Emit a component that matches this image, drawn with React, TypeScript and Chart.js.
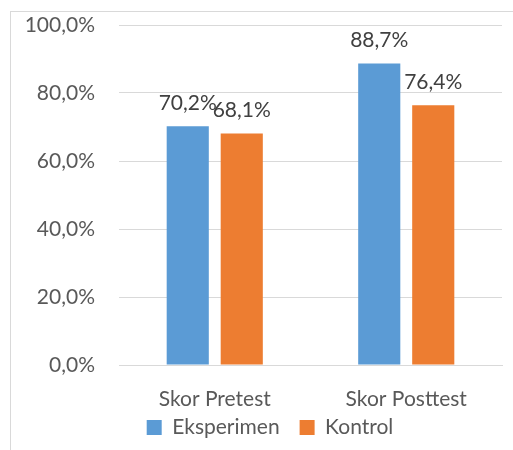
import React, { useEffect, useRef } from "react";
import { Chart, registerables } from "chart.js";

Chart.register(...registerables);

const categories = ["Skor Pretest", "Skor Posttest"];
const seriesNames = ["Eksperimen", "Kontrol"];
const eksperimen = [70.2, 88.7];
const kontrol = [68.1, 76.4];
const yTicks = [0, 20, 40, 60, 80, 100];
const colors = ["#5B9BD5", "#ED7D31"];

const FONT = "Lato, 'Noto Sans', sans-serif";
const FS = 21;
const fmt = (v: number) => v.toFixed(1).replace(".", ",") + "%";

const labelPlugin = {
  id: "valueLabels",
  afterLayout(chart: any) {
    if (chart.legend) {
      chart.legend.left += 19;
      chart.legend.right += 19;
      chart.legend.top -= 15;
    }
  },
  afterDatasetsDraw(chart: any) {
    const ctx = chart.ctx;
    ctx.save();
    ctx.font = `${FS}px ${FONT}`;
    ctx.fillStyle = "#404040";
    ctx.textAlign = "center";
    ctx.textBaseline = "alphabetic";
    chart.data.datasets.forEach((ds: any, di: number) => {
      const meta = chart.getDatasetMeta(di);
      meta.data.forEach((bar: any, i: number) => {
        ctx.fillText(fmt(ds.data[i]), bar.x, bar.y - 16);
      });
    });
    ctx.restore();
  },
};

export default function App() {
  const ref = useRef<HTMLCanvasElement>(null);
  useEffect(() => {
    if (!ref.current) return;
    const chart = new Chart(ref.current, {
      type: "bar",
      data: {
        labels: categories,
        datasets: [
          { label: seriesNames[0], data: eksperimen, backgroundColor: colors[0] },
          { label: seriesNames[1], data: kontrol, backgroundColor: colors[1] },
        ],
      },
      options: {
        responsive: false,
        animation: false,
        layout: { padding: { top: 25, right: 11, left: 0, bottom: 2 } },
        datasets: {
          bar: { categoryPercentage: 0.564, barPercentage: 0.78 },
        },
        scales: {
          y: {
            min: 0,
            max: 100,
            afterFit: (s: any) => {
              s.width = 119;
              s.paddingTop = 0;
              s.paddingBottom = 0;
            },
            afterBuildTicks: (s: any) => { s.ticks = yTicks.map((v) => ({ value: v })); },
            ticks: {
              color: "#595959",
              font: { family: FONT, size: FS },
              padding: 24,
              callback: (v: any) => fmt(Number(v)),
            },
            grid: { color: "#D9D9D9", drawTicks: false },
            border: { display: false },
          },
          x: {
            afterFit: (s: any) => {
              s.height = 47;
              s.paddingLeft = 0;
              s.paddingRight = 0;
            },
            ticks: {
              color: "#595959",
              font: { family: FONT, size: FS },
              padding: 22,
            },
            grid: { display: false, drawTicks: false },
            border: { color: "#D9D9D9" },
          },
        },
        plugins: {
          legend: {
            position: "bottom",
            maxHeight: 36,
            labels: {
              color: "#595959",
              font: { family: FONT, size: FS },
              boxWidth: 15,
              boxHeight: 15,
              padding: 20,
            },
          },
          tooltip: { enabled: false },
        },
      },
      plugins: [labelPlugin],
    });
    return () => chart.destroy();
  }, []);
  return (
    <div style={{ position: "fixed", left: 0, top: 0, width: 513, height: 450, background: "#fff", overflow: "hidden" }}>
      <div style={{ position: "absolute", left: 10, top: 11, width: 700, height: 700, border: "1px solid #D9D9D9" }} />
      <canvas ref={ref} width={513} height={450} style={{ position: "absolute", left: 0, top: 0 }} />
    </div>
  );
}
